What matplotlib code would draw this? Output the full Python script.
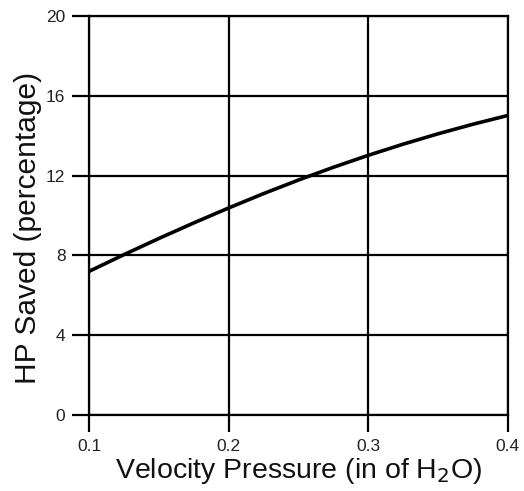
import numpy as np
import matplotlib
matplotlib.use("Agg")
import matplotlib.pyplot as plt

plt.rcParams['font.family'] = ['Liberation Sans', 'DejaVu Sans']

# velocity pressure (in of H2O) vs horsepower saved (%)
velocity_pressure = [0.1, 0.125, 0.15, 0.175, 0.2, 0.225, 0.25, 0.275, 0.3, 0.325, 0.35, 0.375, 0.4]
hp_saved = [7.2, 8.04, 8.85, 9.63, 10.38, 11.1, 11.78, 12.42, 13.02, 13.58, 14.1, 14.58, 15.02]

x_ticks = [0.1, 0.2, 0.3, 0.4]
y_ticks = [0, 4, 8, 12, 16, 20]

fig = plt.figure(figsize=(5.24, 4.91), dpi=100)
ax = fig.add_axes([0.170, 0.155, 0.799, 0.812])

ax.plot(velocity_pressure, hp_saved, color='black', lw=2.6, solid_capstyle='butt')

ax.set_xlim(0.1, 0.4)
ax.set_ylim(0, 20)
ax.set_xticks(x_ticks)
ax.set_yticks(y_ticks)
ax.set_xticklabels(['0.1', '0.2', '0.3', '0.4'])
ax.grid(True, color='black', lw=1.6)
for s in ax.spines.values():
    s.set_linewidth(1.6)
ax.tick_params(direction='out', length=12, width=1.6, labelsize=12.5,
               labelcolor='#222222', pad=5)

ax.set_xlabel('Velocity Pressure (in of H$_2$O)', fontsize=20.5, labelpad=2,
              color='#111111')
ax.set_ylabel('HP Saved (percentage)', fontsize=21.5, color='#111111')
ax.yaxis.set_label_coords(-0.112, 0.47)

fig.savefig('out.png', dpi=100)
